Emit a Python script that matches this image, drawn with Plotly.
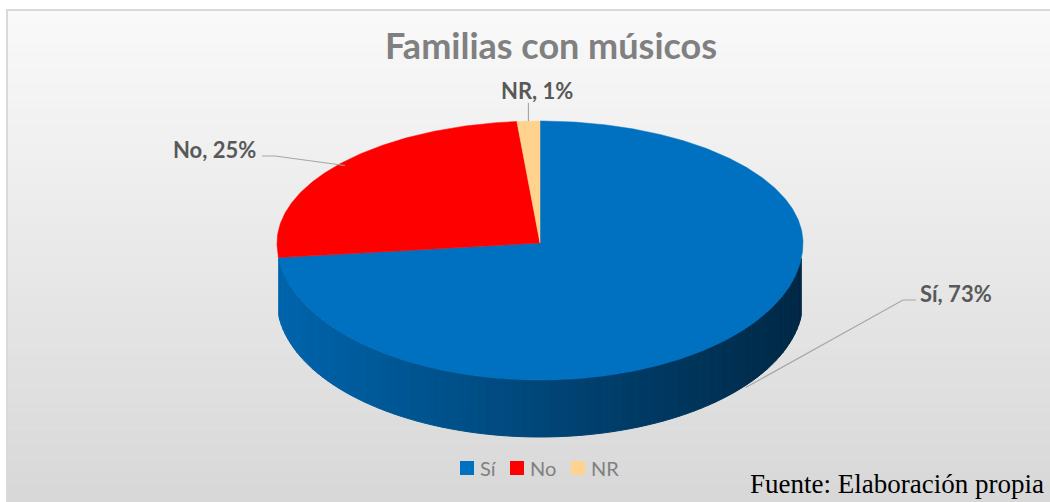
import numpy as np
import plotly.graph_objects as go

# ---------------- data ----------------
categories = ["Sí", "No", "NR"]
values = [73.3, 25.3, 1.4]
label_pct = ["73%", "25%", "1%"]
colors = ["#0070C0", "#FF0000", "#FFD28E"]
title_text = "Familias con músicos"
source_text = "Fuente: Elaboración propia"

# ---------------- geometry (pixel space) ----------------
W, H = 1050, 502
cx, cy = 540, 243
rx = 263
ry_back = 122
ry_front = 137
depth = 57
side_lo, side_hi = 96.5, 263.5   # visible silhouette range of the wall


def ell(theta_deg):
    t = np.radians(np.asarray(theta_deg, dtype=float))
    x = cx + rx * np.sin(t)
    c = np.cos(t)
    y = cy - np.where(c > 0, ry_back, ry_front) * c
    return x, y


def hex2rgb(h):
    h = h.lstrip("#")
    return [int(h[i:i + 2], 16) for i in (0, 2, 4)]


def shade(h, f):
    r, g, b = hex2rgb(h)
    return "rgb(%d,%d,%d)" % (r * f, g * f, b * f)


total = sum(values)
angles = [0.0]
for v in values:
    angles.append(angles[-1] + 360.0 * v / total)

fig = go.Figure()

# background gradient
n_bg = 60
top_y, bot_y = 10, H
for i in range(n_bg):
    y0 = top_y + (bot_y - top_y) * i / n_bg
    y1 = top_y + (bot_y - top_y) * (i + 1) / n_bg + 0.5
    t = (i + 0.5) / n_bg
    g = 250 - (250 - 216) * t
    fig.add_shape(type="rect", x0=7, x1=W + 5, y0=y0, y1=y1, xref="x", yref="y",
                  fillcolor="rgb(%d,%d,%d)" % (g, g, g), line_width=0, layer="below")
fig.add_shape(type="rect", x0=7, x1=W + 5, y0=top_y, y1=H + 5, xref="x", yref="y",
              line=dict(color="#d9d9d9", width=2), fillcolor="rgba(0,0,0,0)", layer="below")

# side walls (visible front part)
n_strips_total = 90
for i, cat in enumerate(categories):
    a0 = max(angles[i], side_lo)
    a1 = min(angles[i + 1], side_hi)
    if a1 <= a0:
        continue
    n = max(1, int(round(n_strips_total * (a1 - a0) / 180.0)))
    edges = np.linspace(a0, a1, n + 1)
    for k in range(n):
        ts = np.linspace(edges[k], edges[k + 1], 6)
        xs, ys = ell(ts)
        xm = np.mean(xs)
        tpos = (xm - (cx - rx)) / (2 * rx)
        f = 0.90 - 0.54 * tpos
        col = shade(colors[i], f)
        px = list(xs) + list(xs[::-1])
        py = list(ys) + list((ys + depth)[::-1])
        fig.add_trace(go.Scatter(x=px + [px[0]], y=py + [py[0]], mode="lines", fill="toself",
                                 fillcolor=col, line=dict(color=col, width=1),
                                 hoverinfo="skip", showlegend=False))

# top faces
for i, cat in enumerate(categories):
    ts = np.linspace(angles[i], angles[i + 1], max(4, int((angles[i + 1] - angles[i]) * 2)))
    xs, ys = ell(ts)
    px = [cx] + list(xs) + [cx]
    py = [cy] + list(ys) + [cy]
    fig.add_trace(go.Scatter(x=px, y=py, mode="lines", fill="toself", fillcolor=colors[i],
                             line=dict(color=colors[i], width=0.5),
                             hoverinfo="skip", showlegend=False))

# data labels with leader lines
lab_font = dict(family="Lato", size=22, color="#595959")
mid = [(angles[i] + angles[i + 1]) / 2 for i in range(len(values))]
lead_col = "#a6a6a6"

# Sí (anchor on side wall)
mx, my = ell(mid[0])
ax0, ay0 = float(mx) + 10, float(my) + depth - 4
lx, ly = 916, 300
fig.add_trace(go.Scatter(x=[ax0, lx - 13, lx], y=[ay0, ly, ly], mode="lines",
                         line=dict(color=lead_col, width=1.2), hoverinfo="skip", showlegend=False))
fig.add_annotation(x=lx + 2, y=ly - 7, xref="x", yref="y", text="<b>%s, %s</b>" % (categories[0], label_pct[0]),
                   showarrow=False, xanchor="left", yanchor="middle", font=lab_font)

# No
mx, my = ell(mid[1])
ax1, ay1 = float(mx) + 8, float(my)
lx, ly = 262, 156
fig.add_trace(go.Scatter(x=[ax1, lx + 13, lx], y=[ay1, ly, ly], mode="lines",
                         line=dict(color=lead_col, width=1.2), hoverinfo="skip", showlegend=False))
fig.add_annotation(x=lx - 4, y=ly - 7, xref="x", yref="y", text="<b>%s, %s</b>" % (categories[1], label_pct[1]),
                   showarrow=False, xanchor="right", yanchor="middle", font=lab_font)

# NR
mx, my = ell(mid[2])
ax2, ay2 = float(mx), float(my)
fig.add_trace(go.Scatter(x=[ax2, ax2], y=[ay2, 103], mode="lines",
                         line=dict(color=lead_col, width=1.2), hoverinfo="skip", showlegend=False))
fig.add_annotation(x=537, y=90, xref="x", yref="y", text="<b>%s, %s</b>" % (categories[2], label_pct[2]),
                   showarrow=False, xanchor="center", yanchor="middle", font=lab_font)

# legend (manual, compact like the original)
leg_x0, leg_y = 467, 468
leg_font = dict(family="Lato", size=20, color="#808080")
text_w = {"Sí": 15, "No": 26, "NR": 24}
xpos = leg_x0
for i, cat in enumerate(categories):
    fig.add_trace(go.Scatter(x=[xpos], y=[leg_y], mode="markers",
                             marker=dict(symbol="square", size=14, color=colors[i]),
                             hoverinfo="skip", showlegend=False))
    fig.add_annotation(x=xpos + 11, y=leg_y, xref="x", yref="y", text=cat, showarrow=False,
                       xanchor="left", yanchor="middle", font=leg_font)
    xpos += 12 + text_w[cat] + 23

# source
fig.add_annotation(x=1046, y=484, xref="x", yref="y", text=source_text, showarrow=False,
                   xanchor="right", yanchor="middle",
                   font=dict(family="Liberation Serif", size=27, color="#000000"))

fig.update_layout(
    width=W, height=H,
    margin=dict(l=0, r=0, t=0, b=0),
    paper_bgcolor="white", plot_bgcolor="rgba(0,0,0,0)",
    title=dict(text="<b>%s</b>" % title_text, x=551 / W, y=1 - 46 / H, xanchor="center", yanchor="middle",
               font=dict(family="Lato", size=36, color="#808080")),
    xaxis=dict(range=[0, W], visible=False, fixedrange=True),
    yaxis=dict(range=[H, 0], visible=False, fixedrange=True),
    showlegend=False,
)

fig.write_html("out.html", config={"displayModeBar": False},
               post_script="document.body.style.margin='0px';")
